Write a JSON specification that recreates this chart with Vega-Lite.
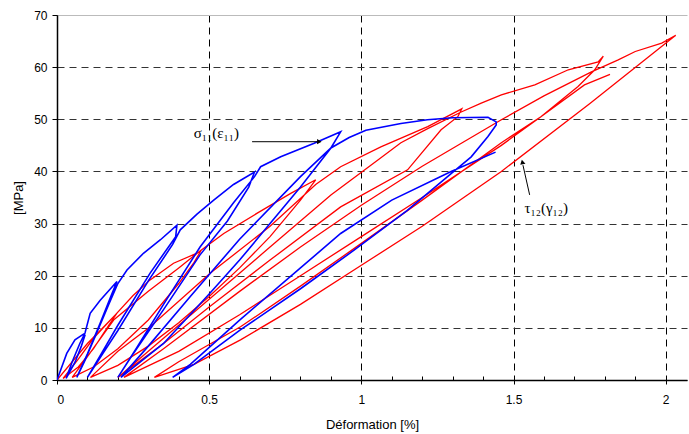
{
  "$schema": "https://vega.github.io/schema/vega-lite/v6.json",
  "width": 630,
  "height": 365,
  "autosize": {"type": "none"},
  "padding": {"left": 57, "top": 15, "right": 2, "bottom": 54},
  "config": {"view": {"stroke": null}, "font": "Liberation Sans"},
  "datasets": {
    "tau": [
      {"i":0,"x":0,"y":0},{"i":1,"x":0.05,"y":3.5},{"i":2,"x":0.1,"y":7},{"i":3,"x":0.15,"y":10},{"i":4,"x":0.197,"y":12.8},
      {"i":5,"x":0.17,"y":10.5},{"i":6,"x":0.12,"y":6},{"i":7,"x":0.07,"y":2.5},{"i":8,"x":0.02,"y":0.3},
      {"i":9,"x":0.07,"y":4},{"i":10,"x":0.12,"y":8},{"i":11,"x":0.19,"y":12.4},{"i":12,"x":0.25,"y":16.2},{"i":13,"x":0.306,"y":19.2},{"i":14,"x":0.383,"y":22.4},{"i":15,"x":0.471,"y":24.6},
      {"i":16,"x":0.45,"y":22.5},{"i":17,"x":0.4,"y":18.5},{"i":18,"x":0.3,"y":11.5},{"i":19,"x":0.2,"y":6},{"i":20,"x":0.12,"y":2.5},{"i":21,"x":0.05,"y":0.5},
      {"i":22,"x":0.1,"y":4.5},{"i":23,"x":0.186,"y":11.5},{"i":24,"x":0.3,"y":17},{"i":25,"x":0.4,"y":21.5},{"i":26,"x":0.471,"y":24.8},{"i":27,"x":0.548,"y":28.1},{"i":28,"x":0.658,"y":32},{"i":29,"x":0.768,"y":35.8},{"i":30,"x":0.85,"y":38.4},
      {"i":31,"x":0.8,"y":34.5},{"i":32,"x":0.7,"y":27.5},{"i":33,"x":0.6,"y":21.5},{"i":34,"x":0.5,"y":16},{"i":35,"x":0.4,"y":11},{"i":36,"x":0.3,"y":6.5},{"i":37,"x":0.2,"y":2.8},{"i":38,"x":0.11,"y":0.5},
      {"i":39,"x":0.2,"y":5.5},{"i":40,"x":0.306,"y":10.2},{"i":41,"x":0.504,"y":20.5},{"i":42,"x":0.7,"y":29.5},{"i":43,"x":0.85,"y":37.5},{"i":44,"x":0.932,"y":40.9},{"i":45,"x":1.064,"y":44.7},{"i":46,"x":1.218,"y":48.6},{"i":47,"x":1.33,"y":52},
      {"i":48,"x":1.317,"y":50.5},{"i":49,"x":1.262,"y":48},{"i":50,"x":1.152,"y":40.3},{"i":51,"x":0.932,"y":33.2},{"i":52,"x":0.7,"y":23},{"i":53,"x":0.5,"y":14},{"i":54,"x":0.35,"y":7},{"i":55,"x":0.2,"y":0.5},
      {"i":56,"x":0.3,"y":5.5},{"i":57,"x":0.5,"y":15.5},{"i":58,"x":0.7,"y":25.5},{"i":59,"x":0.9,"y":35.5},{"i":60,"x":1.05,"y":42},{"i":61,"x":1.13,"y":45.5},{"i":62,"x":1.218,"y":48.2},{"i":63,"x":1.328,"y":51.4},{"i":64,"x":1.394,"y":53.1},{"i":65,"x":1.46,"y":54.7},{"i":66,"x":1.57,"y":56.6},{"i":67,"x":1.68,"y":59.5},{"i":68,"x":1.778,"y":61},{"i":69,"x":1.795,"y":62.1},
      {"i":70,"x":1.767,"y":59.5},{"i":71,"x":1.712,"y":56.3},{"i":72,"x":1.59,"y":50.5},{"i":73,"x":1.46,"y":45},{"i":74,"x":1.2,"y":35},{"i":75,"x":1.0,"y":27.5},{"i":76,"x":0.8,"y":20},{"i":77,"x":0.6,"y":12.5},{"i":78,"x":0.4,"y":5.5},{"i":79,"x":0.22,"y":0.5},
      {"i":80,"x":0.35,"y":6},{"i":81,"x":0.6,"y":17},{"i":82,"x":0.8,"y":25.5},{"i":83,"x":1.0,"y":33.5},{"i":84,"x":1.2,"y":41},{"i":85,"x":1.46,"y":49.9},{"i":86,"x":1.6,"y":54.5},{"i":87,"x":1.756,"y":59.1},{"i":88,"x":1.844,"y":61.4},{"i":89,"x":1.9,"y":63},{"i":90,"x":1.987,"y":64.6},{"i":91,"x":2.033,"y":66.1},
      {"i":92,"x":1.75,"y":53},{"i":93,"x":1.46,"y":40},{"i":94,"x":1.2,"y":29.5},{"i":95,"x":1.0,"y":22},{"i":96,"x":0.8,"y":14.5},{"i":97,"x":0.603,"y":7.7},{"i":98,"x":0.45,"y":3},{"i":99,"x":0.32,"y":0.5},
      {"i":100,"x":0.4,"y":3.5},{"i":101,"x":0.603,"y":10.2},{"i":102,"x":0.8,"y":18},{"i":103,"x":1.0,"y":26.2},{"i":104,"x":1.2,"y":34.5},{"i":105,"x":1.46,"y":45.5},{"i":106,"x":1.59,"y":50.5},{"i":107,"x":1.733,"y":56.6},{"i":108,"x":1.817,"y":58.6}
    ],
    "sigma": [
      {"i":0,"x":0,"y":0},{"i":1,"x":0.032,"y":5.1},{"i":2,"x":0.059,"y":7.7},{"i":3,"x":0.087,"y":8.8},{"i":4,"x":0.092,"y":8.6},
      {"i":5,"x":0.08,"y":6.5},{"i":6,"x":0.06,"y":3.5},{"i":7,"x":0.03,"y":0.3},
      {"i":8,"x":0.05,"y":3.5},{"i":9,"x":0.075,"y":7},{"i":10,"x":0.092,"y":9},{"i":11,"x":0.109,"y":12.8},{"i":12,"x":0.142,"y":15.3},{"i":13,"x":0.197,"y":18.9},
      {"i":14,"x":0.18,"y":16.5},{"i":15,"x":0.142,"y":10.9},{"i":16,"x":0.1,"y":5},{"i":17,"x":0.065,"y":0.5},
      {"i":18,"x":0.09,"y":3.5},{"i":19,"x":0.13,"y":9},{"i":20,"x":0.17,"y":14.5},{"i":21,"x":0.2,"y":18.5},{"i":22,"x":0.23,"y":21.1},{"i":23,"x":0.284,"y":24.3},{"i":24,"x":0.34,"y":26.9},{"i":25,"x":0.394,"y":29.7},
      {"i":26,"x":0.39,"y":27.5},{"i":27,"x":0.306,"y":20.5},{"i":28,"x":0.2,"y":10.5},{"i":29,"x":0.14,"y":4.5},{"i":30,"x":0.1,"y":0.5},
      {"i":31,"x":0.15,"y":5},{"i":32,"x":0.2,"y":9.5},{"i":33,"x":0.3,"y":19},{"i":34,"x":0.38,"y":26},{"i":35,"x":0.405,"y":28.8},{"i":36,"x":0.46,"y":31.8},{"i":37,"x":0.515,"y":34.5},{"i":38,"x":0.58,"y":37.5},{"i":39,"x":0.649,"y":39.9},
      {"i":40,"x":0.63,"y":37},{"i":41,"x":0.56,"y":30.5},{"i":42,"x":0.47,"y":24},{"i":43,"x":0.35,"y":13.5},{"i":44,"x":0.25,"y":5},{"i":45,"x":0.2,"y":0.5},
      {"i":46,"x":0.26,"y":6},{"i":47,"x":0.35,"y":14.5},{"i":48,"x":0.47,"y":25.5},{"i":49,"x":0.58,"y":34},{"i":50,"x":0.649,"y":39},{"i":51,"x":0.669,"y":40.9},{"i":52,"x":0.735,"y":42.8},{"i":53,"x":0.845,"y":45.4},{"i":54,"x":0.932,"y":47.6},
      {"i":55,"x":0.9,"y":44.5},{"i":56,"x":0.8,"y":37},{"i":57,"x":0.7,"y":30},{"i":58,"x":0.6,"y":23},{"i":59,"x":0.5,"y":16.5},{"i":60,"x":0.35,"y":7},{"i":61,"x":0.21,"y":0.5},
      {"i":62,"x":0.3,"y":6.5},{"i":63,"x":0.438,"y":16},{"i":64,"x":0.6,"y":27},{"i":65,"x":0.8,"y":39},{"i":66,"x":0.9,"y":44.5},{"i":67,"x":0.96,"y":46.5},{"i":68,"x":1.015,"y":47.9},{"i":69,"x":1.13,"y":49.2},{"i":70,"x":1.217,"y":49.9},{"i":71,"x":1.3,"y":50.3},{"i":72,"x":1.416,"y":50.4},{"i":73,"x":1.443,"y":49.5},{"i":74,"x":1.443,"y":48.9},
      {"i":75,"x":1.416,"y":46.7},{"i":76,"x":1.361,"y":42.8},{"i":77,"x":1.295,"y":39.6},{"i":78,"x":1.15,"y":32.5},{"i":79,"x":0.976,"y":24.9},{"i":80,"x":0.8,"y":17.5},{"i":81,"x":0.6,"y":9.5},{"i":82,"x":0.45,"y":3},{"i":83,"x":0.38,"y":0.5},
      {"i":84,"x":0.438,"y":3},{"i":85,"x":0.6,"y":11.5},{"i":86,"x":0.8,"y":21.5},{"i":87,"x":0.932,"y":28.1},{"i":88,"x":1.1,"y":34.5},{"i":89,"x":1.295,"y":40},{"i":90,"x":1.441,"y":43.7}
    ],
    "labels": [
      {"x":0.449,"y":47.3,"t":"σ₁₁(ε₁₁)"},
      {"x":1.536,"y":32.9,"t":"τ₁₂(γ₁₂)"}
    ],
    "arrows": [
      {"x":0.641,"y":45.7,"x2":0.855,"y2":45.7},
      {"x":1.553,"y":35.5,"x2":1.531,"y2":41.2}
    ],
    "heads": [
      {"x":0.862,"y":45.7,"angle":90},
      {"x":1.529,"y":41.8,"angle":347}
    ]
  },
  "resolve": {"axis": {"x": "independent"}},
  "layer": [
    {
      "data": {"name": "tau"},
      "mark": {"type": "line", "color": "#ff0000", "strokeWidth": 1.3, "clip": true},
      "encoding": {
        "x": {"field": "x", "type": "quantitative", "scale": {"domain": [0, 2.07], "nice": false},
          "axis": {"orient": "bottom", "values": [0, 0.5, 1, 1.5, 2], "format": "~g", "title": "Déformation [%]",
            "grid": true, "gridDash": [7, 5], "gridColor": "#000", "gridOpacity": 1, "gridWidth": 1,
            "domainColor": "#000", "domainWidth": 1.5, "tickColor": "#000", "tickSize": 4,
            "labelFont": "Liberation Sans", "labelFontSize": 12, "labelColor": "#000", "labelPadding": 10,
            "titleFont": "Liberation Sans", "titleFontSize": 13, "titleFontWeight": "normal", "titleColor": "#000", "titlePadding": 13}},
        "y": {"field": "y", "type": "quantitative", "scale": {"domain": [0, 70], "nice": false},
          "axis": {"values": [0, 10, 20, 30, 40, 50, 60, 70], "title": "[MPa]",
            "grid": true, "gridDash": {"condition": {"test": "datum.value === 70", "value": []}, "value": [7, 5]},
            "gridColor": {"condition": {"test": "datum.value === 70", "value": "#bbbbbb"}, "value": "#333333"}, "gridOpacity": 1, "gridWidth": 1,
            "domainColor": "#000", "domainWidth": 1.5, "tickColor": "#000", "tickSize": 5,
            "labelFont": "Liberation Sans", "labelFontSize": 12, "labelColor": "#000", "labelPadding": 5,
            "titleFont": "Liberation Sans", "titleFontSize": 13, "titleFontWeight": "normal", "titleColor": "#000", "titlePadding": 8}},
        "order": {"field": "i", "type": "quantitative"}
      }
    },
    {
      "data": {"name": "sigma"},
      "mark": {"type": "line", "color": "#0000ff", "strokeWidth": 1.6, "clip": true},
      "encoding": {
        "x": {"field": "x", "type": "quantitative",
          "axis": {"orient": "top", "offset": -365, "values": [0.1,0.2,0.3,0.4,0.6,0.7,0.8,0.9,1.1,1.2,1.3,1.4,1.6,1.7,1.8,1.9], "labels": false, "domain": false, "grid": false, "title": null, "ticks": true, "tickSize": 4, "tickWidth": 1, "tickColor": "#000", "tickOpacity": 1}},
        "y": {"field": "y", "type": "quantitative"},
        "order": {"field": "i", "type": "quantitative"}
      }
    },
    {
      "data": {"name": "arrows"},
      "mark": {"type": "rule", "color": "#000", "strokeWidth": 1},
      "encoding": {
        "x": {"field": "x", "type": "quantitative", "axis": null},
        "y": {"field": "y", "type": "quantitative"},
        "x2": {"field": "x2"},
        "y2": {"field": "y2"}
      }
    },
    {
      "data": {"name": "heads"},
      "mark": {"type": "point", "shape": "triangle-up", "filled": true, "color": "#000", "size": 28, "opacity": 1},
      "encoding": {
        "x": {"field": "x", "type": "quantitative", "axis": null},
        "y": {"field": "y", "type": "quantitative"},
        "angle": {"field": "angle", "type": "quantitative", "scale": null}
      }
    },
    {
      "data": {"name": "labels"},
      "mark": {"type": "text", "align": "left", "baseline": "middle", "font": "Liberation Serif", "fontSize": 15, "color": "#000"},
      "encoding": {
        "x": {"field": "x", "type": "quantitative", "axis": null},
        "y": {"field": "y", "type": "quantitative"},
        "text": {"field": "t"}
      }
    }
  ]
}
